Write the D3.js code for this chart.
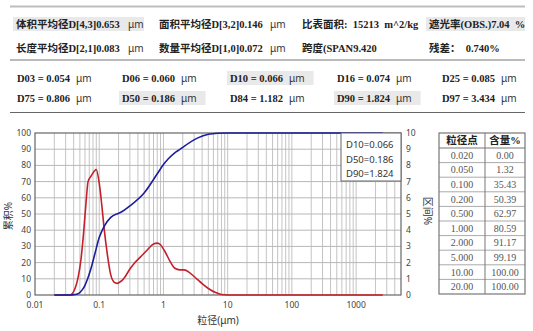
<!DOCTYPE html>
<html><head><meta charset="utf-8">
<script src="https://cdn.jsdelivr.net/npm/d3@7"></script>
<style>body{margin:0;background:#fff;} svg{display:block;}</style>
</head><body><svg id="c" width="533" height="331"></svg>
<script>
// ---------- data ----------
const summaryRow1 = ["体积平均径D[4,3]0.653", "面积平均径D[3,2]0.146", "比表面积:  15213  m^2/kg", "遮光率(OBS.)7.04  %"];
const summaryRow2 = ["长度平均径D[2,1]0.083", "数量平均径D[1,0]0.072", "跨度(SPAN9.420", "残差：  0.740%"];
const summaryUnits = ["μm", "μm", "", ""];
const dNames1 = ["D03", "D06", "D10", "D16", "D25"];
const dValues1 = ["0.054", "0.060", "0.066", "0.074", "0.085"];
const dNames2 = ["D75", "D50", "D84", "D90", "D97"];
const dValues2 = ["0.806", "0.186", "1.182", "1.824", "3.434"];
const tableHeader = ["粒径点", "含量%"];
const tableSizes = ["0.020", "0.050", "0.100", "0.200", "0.500", "1.000", "2.000", "5.000", "10.00", "20.00"];
const tableContents = ["0.00", "1.32", "35.43", "50.39", "62.97", "80.59", "91.17", "99.19", "100.00", "100.00"];
const legendLines = ["D10=0.066", "D50=0.186", "D90=1.824"];
const xTickValues = [0.01, 0.1, 1, 10, 100, 1000];
const xTickLabels = ["0.01", "0.1", "1", "10", "100", "1000"];
const leftTicks = [0, 10, 20, 30, 40, 50, 60, 70, 80, 90, 100];
const rightTicks = [0, 1, 2, 3, 4, 5, 6, 7, 8, 9, 10];
// cumulative (累积%)
const cumSizes  = [0.02, 0.035, 0.042, 0.048, 0.054, 0.060, 0.066, 0.074, 0.085, 0.1, 0.12, 0.15, 0.186, 0.2, 0.3, 0.5, 0.806, 1.0, 1.182, 1.5, 1.824, 2.0, 3.434, 5.0, 7.0, 10, 20, 100, 1000, 2600];
const cumValues = [0, 0, 0.3, 1.0, 3, 6, 10, 16, 25, 35.43, 42.5, 47.8, 50, 50.39, 55, 62.97, 75, 80.59, 84, 87.8, 90, 91.17, 97, 99.19, 99.85, 100, 100, 100, 100, 100];
// interval (区间%)
const distSizes  = [0.02, 0.035, 0.042, 0.047, 0.052, 0.057, 0.062, 0.067, 0.075, 0.084, 0.09, 0.1, 0.11, 0.12, 0.135, 0.15, 0.17, 0.19, 0.21, 0.24, 0.3, 0.35, 0.44, 0.55, 0.7, 0.8, 0.9, 1.05, 1.3, 1.5, 1.8, 2.1, 2.6, 3.3, 4.0, 5.0, 6.5, 8.0, 10, 100, 1000, 2600];
const distValues = [0, 0, 0.4, 1.1, 2.2, 3.8, 5.6, 7.0, 7.35, 7.65, 7.75, 6.9, 5.5, 4.0, 2.4, 1.3, 0.8, 0.72, 0.8, 1.0, 1.6, 1.95, 2.35, 2.75, 3.15, 3.2, 3.1, 2.7, 2.0, 1.65, 1.55, 1.55, 1.35, 1.0, 0.7, 0.4, 0.15, 0.03, 0, 0, 0, 0];

// ---------- drawing ----------
const svg = d3.select("#c");
const serif = "'Liberation Serif','Times New Roman','Noto Sans CJK SC',serif";
const sans = "'Noto Sans','Noto Sans CJK SC',sans-serif";

// top rules
svg.append("line").attr("x1", 10).attr("x2", 525).attr("y1", 6.5).attr("y2", 6.5).attr("stroke", "#bdbdbd").attr("stroke-width", 2);
svg.append("line").attr("x1", 10).attr("x2", 525).attr("y1", 60).attr("y2", 60).attr("stroke", "#777").attr("stroke-width", 1.2);
svg.append("line").attr("x1", 10).attr("x2", 525).attr("y1", 112.5).attr("y2", 112.5).attr("stroke", "#666").attr("stroke-width", 1.2);

// summary rows
const sumX = [16, 159, 302, 429];
const sumUnitX = [128, 270];
const sumHL = [[13, 144], null, null, [426, 525]];
sumHL.forEach(h => { if (h) svg.append("rect").attr("x", h[0]).attr("y", 17).attr("width", h[1] - h[0]).attr("height", 14).attr("fill", "#e9e9e9"); });
[[summaryRow1, 28], [summaryRow2, 52]].forEach(([row, y]) => {
  row.forEach((t, i) => {
    svg.append("text").attr("x", sumX[i]).attr("y", y).attr("font-family", serif).attr("font-weight", "bold")
      .attr("font-size", 10.5).attr("fill", "#222").attr("xml:space", "preserve").style("white-space", "pre").text(t);
    if (summaryUnits[i]) svg.append("text").attr("x", sumUnitX[i]).attr("y", y).attr("font-family", sans)
      .attr("font-size", 10).attr("fill", "#333").text(summaryUnits[i]);
  });
});

// D rows
const dX = [17, 122, 230, 337, 442];
const dHL1 = [false, false, true, false, false];
const dHL2 = [false, true, false, true, false];
[[dNames1, dValues1, dHL1, 82], [dNames2, dValues2, dHL2, 102]].forEach(([names, vals, hl, y]) => {
  names.forEach((n, i) => {
    const g = svg.append("g");
    const t = g.append("text").attr("x", dX[i]).attr("y", y).attr("font-family", serif).attr("font-weight", "bold")
      .attr("font-size", 10.5).attr("fill", "#222").style("white-space", "pre").text(n + " = " + vals[i]);
    const w = t.node().getComputedTextLength();
    const u = g.append("text").attr("x", dX[i] + w + 6).attr("y", y).attr("font-family", sans)
      .attr("font-size", 10).attr("fill", "#333").text("μm");
    if (hl[i]) {
      const uw = u.node().getComputedTextLength();
      g.insert("rect", ":first-child").attr("x", dX[i] - 3).attr("y", y - 11).attr("width", w + 6 + uw + 12).attr("height", 14).attr("fill", "#e9e9e9");
    }
  });
});

// chart
const L = 35, R = 401, T = 133, B = 295;
const x = d3.scaleLog().domain([0.01, 5000]).range([L, R]);
const yL = d3.scaleLinear().domain([0, 100]).range([B, T]);
const yR = d3.scaleLinear().domain([0, 10]).range([B, T]);

const grid = svg.append("g");
x.ticks().filter(v => v > 0.0101 && v < 4999).forEach(v => {
  grid.append("line").attr("x1", x(v)).attr("x2", x(v)).attr("y1", T).attr("y2", B).attr("stroke", "#c4c4c4").attr("stroke-width", 1);
});
leftTicks.filter(v => v > 0 && v < 100).forEach(v => {
  grid.append("line").attr("x1", L).attr("x2", R).attr("y1", yL(v)).attr("y2", yL(v)).attr("stroke", "#b8b8b8").attr("stroke-width", 1);
});
svg.append("rect").attr("x", L).attr("y", T).attr("width", R - L).attr("height", B - T).attr("fill", "none").attr("stroke", "#666").attr("stroke-width", 1.2);

// tick labels
leftTicks.forEach(v => svg.append("text").attr("x", 31).attr("y", yL(v) + 3).attr("text-anchor", "end")
  .attr("font-family", sans).attr("font-size", 8.5).attr("fill", "#444").text(v));
rightTicks.forEach(v => svg.append("text").attr("x", 406).attr("y", yR(v) + 3).attr("text-anchor", "start")
  .attr("font-family", sans).attr("font-size", 8.5).attr("fill", "#444").text(v));
xTickValues.forEach((v, i) => svg.append("text").attr("x", x(v)).attr("y", 308).attr("text-anchor", "middle")
  .attr("font-family", sans).attr("font-size", 8.5).attr("fill", "#444").text(xTickLabels[i]));

// axis titles
svg.append("text").attr("transform", "translate(12,216) rotate(-90)").attr("text-anchor", "middle")
  .attr("font-family", sans).attr("font-size", 10).attr("fill", "#333").text("累积%");
svg.append("text").attr("transform", "translate(424,211) rotate(90)").attr("text-anchor", "middle")
  .attr("font-family", sans).attr("font-size", 10).attr("fill", "#333").text("区间%");
svg.append("text").attr("x", 218).attr("y", 324).attr("text-anchor", "middle")
  .attr("font-family", sans).attr("font-size", 10).attr("fill", "#333").text("粒径(μm)");

// curves
const distData = distSizes.map((s, i) => [s, distValues[i]]);
const cumData = cumSizes.map((s, i) => [s, cumValues[i]]);
svg.append("path").datum(distData).attr("fill", "none").attr("stroke", "#c3202b").attr("stroke-width", 1.6)
  .attr("d", d3.line().x(d => x(d[0])).y(d => yR(d[1])).curve(d3.curveMonotoneX));
svg.append("path").datum(cumData).attr("fill", "none").attr("stroke", "#1c1c9c").attr("stroke-width", 1.6)
  .attr("d", d3.line().x(d => x(d[0])).y(d => yL(d[1])).curve(d3.curveMonotoneX));

// legend box
svg.append("rect").attr("x", 341).attr("y", T).attr("width", R - 341).attr("height", 48).attr("fill", "#fff").attr("stroke", "#666").attr("stroke-width", 1);
legendLines.forEach((t, i) => svg.append("text").attr("x", 346).attr("y", 148 + i * 14.5)
  .attr("font-family", sans).attr("font-size", 9.5).attr("fill", "#333").text(t));

// table
const tx0 = 439, tx1 = 525, tmid = 485, ty0 = 133, th = 15, rh = 14.6;
const tbl = svg.append("g");
const tyEnd = ty0 + th + rh * tableSizes.length;
tableSizes.forEach((s, i) => {
  const yTop = ty0 + th + rh * i;
  tbl.append("line").attr("x1", tx0).attr("x2", tx1).attr("y1", yTop).attr("y2", yTop).attr("stroke", i === 0 ? "#777" : "#aaa").attr("stroke-width", 1);
  tbl.append("text").attr("x", (tx0 + tmid) / 2).attr("y", yTop + rh / 2 + 3.5).attr("text-anchor", "middle")
    .attr("font-family", serif).attr("font-size", 10).attr("fill", "#555").text(s);
  tbl.append("text").attr("x", (tmid + tx1) / 2).attr("y", yTop + rh / 2 + 3.5).attr("text-anchor", "middle")
    .attr("font-family", serif).attr("font-size", 10).attr("fill", "#555").text(tableContents[i]);
});
tbl.append("line").attr("x1", tmid).attr("x2", tmid).attr("y1", ty0).attr("y2", tyEnd).attr("stroke", "#777").attr("stroke-width", 1);
tbl.append("rect").attr("x", tx0).attr("y", ty0).attr("width", tx1 - tx0).attr("height", tyEnd - ty0).attr("fill", "none").attr("stroke", "#777").attr("stroke-width", 1.2);
tableHeader.forEach((h, i) => tbl.append("text").attr("x", i === 0 ? (tx0 + tmid) / 2 : (tmid + tx1) / 2).attr("y", ty0 + 11)
  .attr("text-anchor", "middle").attr("font-family", serif).attr("font-weight", "bold").attr("font-size", 10.5).attr("fill", "#222").text(h));
</script></body></html>
